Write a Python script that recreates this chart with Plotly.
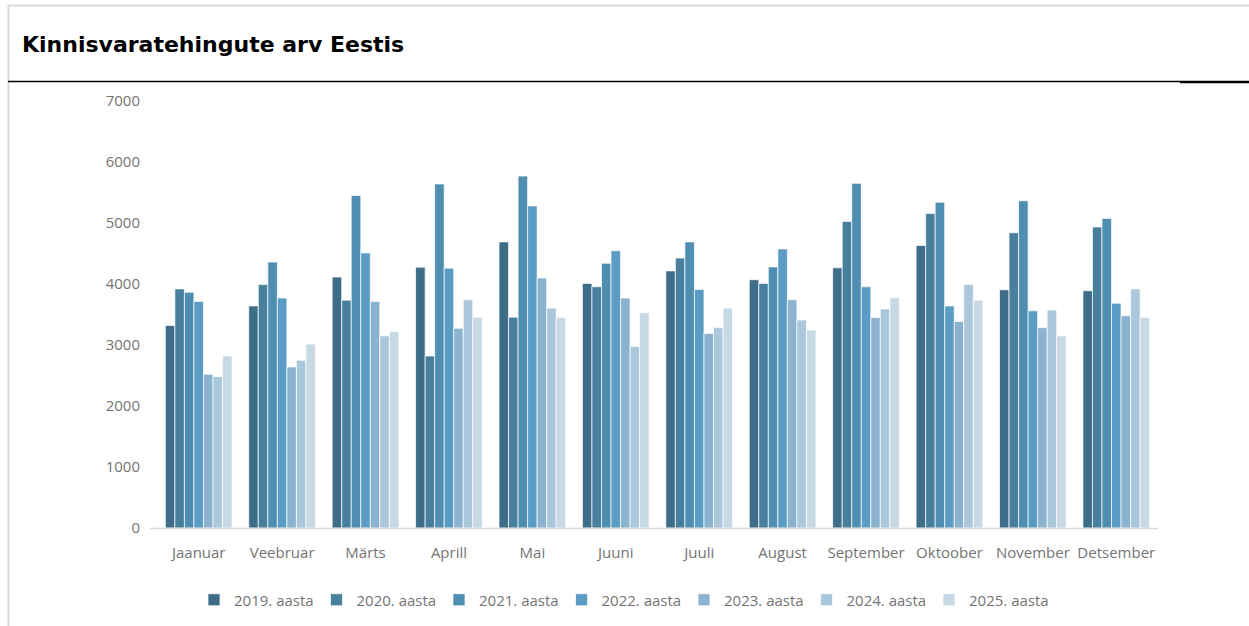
import plotly.graph_objects as go

# Monthly count of real estate transactions in Estonia, by year
months = ["Jaanuar", "Veebruar", "Märts", "Aprill", "Mai", "Juuni",
          "Juuli", "August", "September", "Oktoober", "November", "Detsember"]

y2019 = [3320, 3640, 4115, 4275, 4690, 4010, 4215, 4070, 4265, 4630, 3905, 3890]
y2020 = [3920, 3990, 3735, 2820, 3455, 3955, 4425, 4010, 5025, 5155, 4840, 4935]
y2021 = [3865, 4360, 5450, 5640, 5770, 4340, 4690, 4280, 5650, 5340, 5365, 5075]
y2022 = [3715, 3770, 4510, 4260, 5280, 4545, 3910, 4575, 3955, 3640, 3560, 3685]
y2023 = [2520, 2640, 3715, 3275, 4100, 3770, 3190, 3740, 3450, 3385, 3285, 3480]
y2024 = [2485, 2750, 3150, 3740, 3605, 2975, 3285, 3410, 3590, 3990, 3575, 3920]
y2025 = [2820, 3015, 3220, 3455, 3455, 3530, 3605, 3245, 3775, 3735, 3150, 3455]

series_names = ["2019. aasta", "2020. aasta", "2021. aasta", "2022. aasta",
                "2023. aasta", "2024. aasta", "2025. aasta"]
series_values = [y2019, y2020, y2021, y2022, y2023, y2024, y2025]
colors = ["#3d6d88", "#477f9d", "#4f8eb1", "#5a9cc3", "#8bb3cf", "#abc7db", "#c8d9e6"]

W, H = 1249, 626
tick_font = dict(family="Open Sans, Lato, sans-serif", size=15, color="#747474")

fig = go.Figure()
for name, vals, col in zip(series_names, series_values, colors):
    fig.add_trace(go.Bar(
        x=months, y=vals, name=name,
        marker=dict(color=col, line=dict(color="rgba(255,255,255,0.7)", width=1)),
    ))


def px_x(p):
    return p / W


def px_y(p):
    return 1 - p / H


# Frame lines and header rule
shapes = [
    dict(type="line", xref="paper", yref="paper", x0=px_x(8), x1=1, y0=px_y(5.5), y1=px_y(5.5),
         line=dict(color="#d9d9d9", width=2)),
    dict(type="line", xref="paper", yref="paper", x0=px_x(8.5), x1=px_x(8.5), y0=px_y(5), y1=0,
         line=dict(color="#d9d9d9", width=2)),
    dict(type="line", xref="paper", yref="paper", x0=px_x(8), x1=px_x(1180), y0=px_y(81.5), y1=px_y(81.5),
         line=dict(color="#000000", width=1.5)),
    dict(type="line", xref="paper", yref="paper", x0=px_x(1180), x1=1, y0=px_y(82), y1=px_y(82),
         line=dict(color="#000000", width=2.5)),
    # category axis baseline
    dict(type="line", xref="paper", yref="paper", x0=px_x(150), x1=px_x(1158), y0=px_y(528.5), y1=px_y(528.5),
         line=dict(color="#d9d9d9", width=1.5)),
]

fig.update_layout(
    width=W, height=H,
    autosize=False,
    margin=dict(l=0, r=0, t=0, b=0, pad=0, autoexpand=False),
    paper_bgcolor="white", plot_bgcolor="white",
    barmode="group", bargap=0.2, bargroupgap=0.0,
    shapes=shapes,
    annotations=[dict(
        text="<b>Kinnisvaratehingute arv Eestis</b>", xref="paper", yref="paper",
        x=px_x(20), y=px_y(45), xanchor="left", yanchor="middle", showarrow=False,
        font=dict(family="DejaVu Sans, sans-serif", size=22, color="#000000"),
    )],
    xaxis=dict(domain=[px_x(157), px_x(1158)], showline=False, showgrid=False, automargin=False,
               ticks="", ticklabelstandoff=14, tickfont=tick_font, fixedrange=True),
    yaxis=dict(domain=[px_y(528), px_y(101)], range=[0, 7000], tickvals=list(range(0, 7001, 1000)),
               showgrid=False, showline=False, zeroline=False, ticks="", ticklabelstandoff=16,
               automargin=False, tickfont=tick_font, fixedrange=True),
    legend=dict(orientation="h", x=px_x(194), xanchor="left", y=px_y(600), yanchor="middle",
                font=tick_font, entrywidth=77.5, entrywidthmode="pixels", itemwidth=30,
                bgcolor="rgba(0,0,0,0)"),
)

fig.write_html("out.html")
